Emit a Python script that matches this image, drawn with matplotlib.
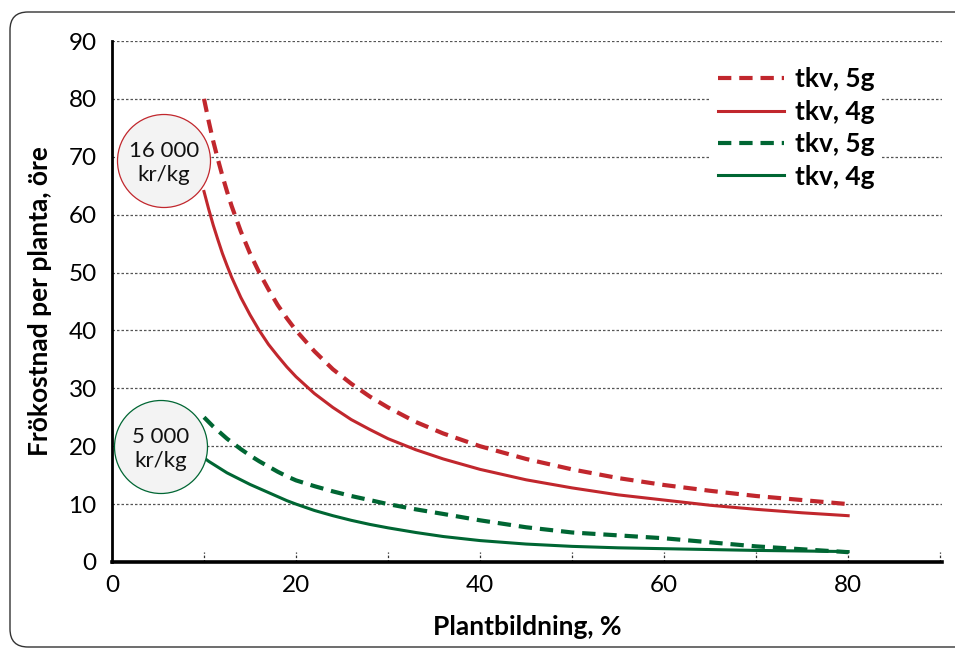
import matplotlib
matplotlib.use("Agg")
import matplotlib.pyplot as plt
from matplotlib.patches import Ellipse, FancyBboxPatch
from matplotlib.transforms import IdentityTransform

plt.rcParams['font.family'] = ['Lato', 'DejaVu Sans']

# Data
x = [10, 10.5, 11, 11.5, 12, 12.5, 13, 14, 15, 16, 17, 18, 19, 20, 22, 24, 26, 28, 30, 33, 36,
     40, 45, 50, 55, 60, 65, 70, 75, 80]
red_5g = [80, 76.2, 72.7, 69.6, 66.7, 64.0, 61.5, 57.1, 53.3, 50.0, 47.1, 44.4, 42.1, 40.0, 36.4,
          33.3, 30.8, 28.6, 26.7, 24.2, 22.2, 20.0, 17.8, 16.0, 14.5, 13.3, 12.3, 11.4, 10.7, 10.0]
red_4g = [64, 61.0, 58.2, 55.7, 53.3, 51.2, 49.2, 45.7, 42.7, 40.0, 37.6, 35.6, 33.7, 32.0, 29.1,
          26.7, 24.6, 22.9, 21.3, 19.4, 17.8, 16.0, 14.2, 12.8, 11.6, 10.7, 9.8, 9.1, 8.5, 8.0]
green_5g = [25, 24.2, 23.4, 22.7, 22.0, 21.3, 20.7, 19.5, 18.4, 17.4, 16.5, 15.6, 14.8, 14.1, 13.1,
            12.2, 11.4, 10.7, 10.0, 9.1, 8.3, 7.2, 6.0, 5.1, 4.6, 4.1, 3.4, 2.7, 2.2, 1.7]
green_4g = [18, 17.4, 16.9, 16.4, 15.9, 15.4, 15.0, 14.2, 13.4, 12.7, 12.0, 11.3, 10.6, 10.0, 8.9,
            8.0, 7.2, 6.5, 5.9, 5.1, 4.4, 3.7, 3.1, 2.7, 2.45, 2.3, 2.15, 2.0, 1.9, 1.8]
series_labels = ["tkv, 5g", "tkv, 4g", "tkv, 5g", "tkv, 4g"]
x_ticks = [0, 20, 40, 60, 80]
y_ticks = [0, 10, 20, 30, 40, 50, 60, 70, 80, 90]
x_minor = [10, 20, 30, 40, 50, 60, 70, 80, 90]
price_labels = ["16 000\nkr/kg", "5 000\nkr/kg"]

RED = "#c1272d"
GREEN = "#006633"

W, H = 955, 648
fig = plt.figure(figsize=(W / 100, H / 100), dpi=100)
fig.patch.set_facecolor("white")

# rounded frame
frame = FancyBboxPatch((10 + 18, 1 + 18), 1000 - 36, 635 - 36,
                       boxstyle="round,pad=18", transform=IdentityTransform(),
                       facecolor="none", edgecolor="#333333", linewidth=1.0)
fig.patches.append(frame)

ax = fig.add_axes([112 / W, 86 / H, 830 / W, 521 / H])
ax.set_xlim(0, 90.2)
ax.set_ylim(0, 90)

# gridlines
for yv in y_ticks[1:]:
    ax.axhline(yv, color="#555555", lw=0.9, linestyle=(0, (2, 1.6)), zorder=1)

# dashed minor tick marks on x axis
ax.vlines(x_minor, 0, 1.8, colors="#333333", linestyles=(0, (2, 1.5)), lw=0.9, zorder=2)

lw_dash = 3.0
lw_solid = 2.2
dash = (0, (3.2, 1.9))
ax.plot(x, red_5g, color=RED, lw=lw_dash, linestyle=dash, label=series_labels[0], zorder=3)
ax.plot(x, red_4g, color=RED, lw=lw_solid, label=series_labels[1], zorder=3)
ax.plot(x, green_5g, color=GREEN, lw=lw_dash, linestyle=dash, label=series_labels[2], zorder=3)
ax.plot(x, green_4g, color=GREEN, lw=lw_solid, label=series_labels[3], zorder=3)

# price circles
px_x = 830 / 90.2
px_y = 521 / 90
for (cx, cy), lab, col in [((164, 161), price_labels[0], RED), ((161, 447), price_labels[1], GREEN)]:
    dx = (cx - 112) / px_x
    dy = (562 - cy) / px_y
    e = Ellipse((dx, dy), 93 / px_x, 93 / px_y, facecolor="#f3f3f3", edgecolor=col,
                lw=0.9, zorder=4, clip_on=False)
    ax.add_patch(e)
    ax.text(dx, dy - 0.3, lab, ha="center", va="center", fontsize=16, linespacing=1.25,
            color="#111111", zorder=5)

# spines
for s in ["top", "right"]:
    ax.spines[s].set_visible(False)
ax.spines["left"].set_linewidth(2.0)
ax.spines["bottom"].set_linewidth(2.6)
ax.spines["left"].set_color("black")
ax.spines["bottom"].set_color("black")

ax.set_xticks(x_ticks)
ax.set_yticks(y_ticks)
ax.tick_params(axis="both", length=0, labelsize=17.5, colors="black")
ax.tick_params(axis="y", pad=11)
ax.tick_params(axis="x", pad=9)

ax.set_xlabel("Plantbildning, %", fontsize=19, fontweight="bold", labelpad=14)
ax.set_ylabel("Frökostnad per planta, öre", fontsize=19, fontweight="bold", labelpad=12)

leg = ax.legend(loc="upper left", bbox_to_anchor=(0.705, 0.99), frameon=True,
                facecolor="white", edgecolor="none", framealpha=1.0, fancybox=False,
                fontsize=19, handlelength=2.5, handletextpad=0.4, labelspacing=0.32,
                borderpad=0.3)
for t in leg.get_texts():
    t.set_fontweight("bold")
leg.set_zorder(6)

fig.savefig("out.png", dpi=100)
